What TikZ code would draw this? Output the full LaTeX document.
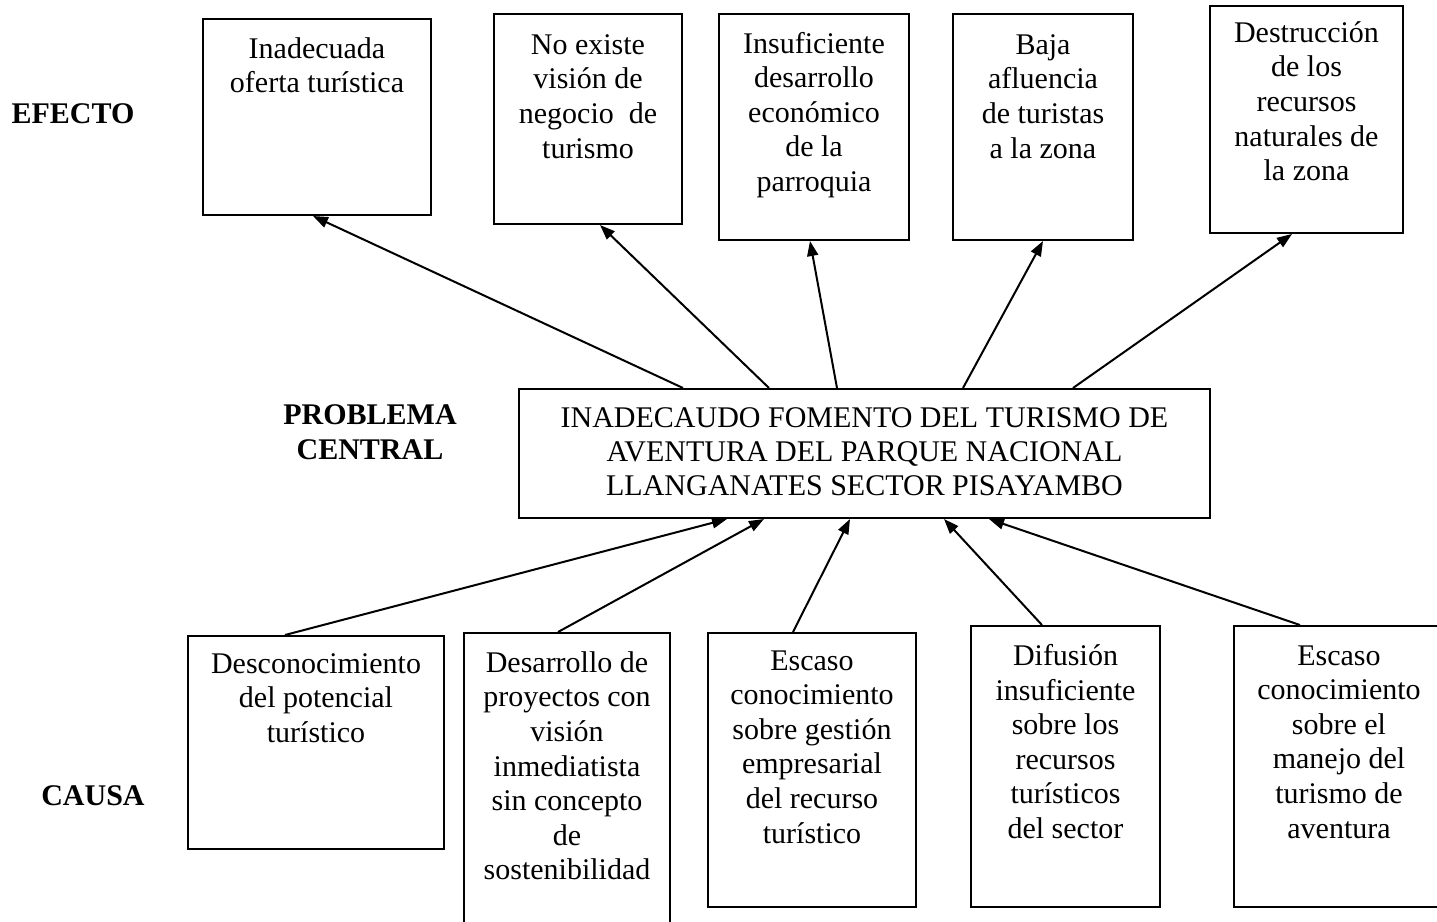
\documentclass[tikz,border=0pt]{standalone}
\usepackage{fontspec}
\setmainfont{Liberation Serif}
\usetikzlibrary{arrows.meta, positioning}

\begin{document}
\begin{tikzpicture}[x=0.5pt, y=-0.5pt,
  caja/.style={draw, line width=1pt, anchor=north west, inner sep=0pt},
  txt/.style={align=center, inner sep=0pt, font=\fontsize{15pt}{17.3pt}\selectfont},
  etq/.style={align=center, inner sep=0pt, font=\fontsize{15pt}{17.5pt}\selectfont\bfseries},
  flecha/.style={line width=1pt, -{Triangle[length=7.5pt, width=5.5pt]}},
]
  \useasboundingbox (0,0) rectangle (1437,922);
  \clip (0,0) rectangle (1437,922);
  % Labels
  \node[etq, anchor=base]  (lefecto) at (73,123)  {EFECTO};
  \node[etq, anchor=north] (lprob)   at (370,404) {PROBLEMA\\CENTRAL};
  \node[etq, anchor=base]  (lcausa)  at (93,805)  {CAUSA};
  % Efectos
  \node[caja, minimum width=114pt,  minimum height=98pt]    (e1) at (202,18)  {};
  \node[caja, minimum width=94pt,   minimum height=105pt]   (e2) at (493,13)  {};
  \node[caja, minimum width=95pt,   minimum height=113pt]   (e3) at (718,13)  {};
  \node[caja, minimum width=90pt,   minimum height=113pt]   (e4) at (952,13)  {};
  \node[caja, minimum width=96.5pt, minimum height=113.5pt] (e5) at (1209,5)  {};
  \node[txt, below=9.5pt of e1.north]  (e1t) {Inadecuada\\oferta turística};
  \node[txt, below=10.5pt of e2.north] (e2t) {No existe\\visión de\\negocio~ de\\turismo};
  \node[txt, below=9.25pt of e3.north] (e3t) {Insuficiente\\desarrollo\\económico\\de la\\parroquia};
  \node[txt, below=10.5pt of e4.north] (e4t) {Baja\\afluencia\\de turistas\\a la zona};
  \node[txt, below=8pt of e5.north]    (e5t) {Destrucción\\de los\\recursos\\naturales de\\la zona};
  % Problema central
  \node[caja, minimum width=345.5pt, minimum height=64.5pt] (p) at (518,388) {};
  \node[txt, font=\fontsize{15pt}{17pt}\selectfont] (pt) at ([yshift=1pt]p.center) {INADECAUDO FOMENTO DEL TURISMO DE\\AVENTURA DEL PARQUE NACIONAL\\LLANGANATES SECTOR PISAYAMBO};
  % Causas
  \node[caja, minimum width=128pt, minimum height=106.5pt] (c1) at (187,635)  {};
  \node[caja, minimum width=103pt, minimum height=150pt]   (c2) at (463,632)  {};
  \node[caja, minimum width=104pt, minimum height=137pt]   (c3) at (707,632)  {};
  \node[caja, minimum width=94.5pt, minimum height=140.5pt] (c4) at (970,625) {};
  \node[caja, minimum width=105pt, minimum height=140.5pt] (c5) at (1233,625) {};
  \node[txt, below=9pt of c1.north]  (c1t) {Desconocimiento\\del potencial\\turístico};
  \node[txt, below=9.5pt of c2.north] (c2t) {Desarrollo de\\proyectos con\\visión\\inmediatista\\sin concepto\\de\\sostenibilidad};
  \node[txt, below=9pt of c3.north]  (c3t) {Escaso\\conocimiento\\sobre gestión\\empresarial\\del recurso\\turístico};
  \node[txt, below=9.5pt of c4.north] (c4t) {Difusión\\insuficiente\\sobre los\\recursos\\turísticos\\del sector};
  \node[txt, below=10pt of c5.north] (c5t) {Escaso\\conocimiento\\sobre el\\manejo del\\turismo de\\aventura};
  % Flechas hacia los efectos
  \draw[flecha] ([xshift=82.5pt]p.north west)  -- ([xshift=55.5pt]e1.south west);
  \draw[flecha] ([xshift=125.5pt]p.north west) -- ([xshift=53.5pt]e2.south west);
  \draw[flecha] ([xshift=159.5pt]p.north west) -- ([xshift=46pt]e3.south west);
  \draw[flecha] ([xshift=222.5pt]p.north west) -- ([xshift=45.5pt]e4.south west);
  \draw[flecha] ([xshift=277.5pt]p.north west) -- ([xshift=41.5pt]e5.south west);
  % Flechas desde las causas
  \draw[flecha] ([xshift=49pt]c1.north west)   -- ([xshift=104.5pt]p.south west);
  \draw[flecha] ([xshift=47.5pt]c2.north west) -- ([xshift=123pt]p.south west);
  \draw[flecha] ([xshift=43pt]c3.north west)   -- ([xshift=166pt]p.south west);
  \draw[flecha] ([xshift=36pt]c4.north west)   -- ([xshift=213pt]p.south west);
  \draw[flecha] ([xshift=33.5pt]c5.north west) -- ([xshift=235.5pt]p.south west);
\end{tikzpicture}
\end{document}
